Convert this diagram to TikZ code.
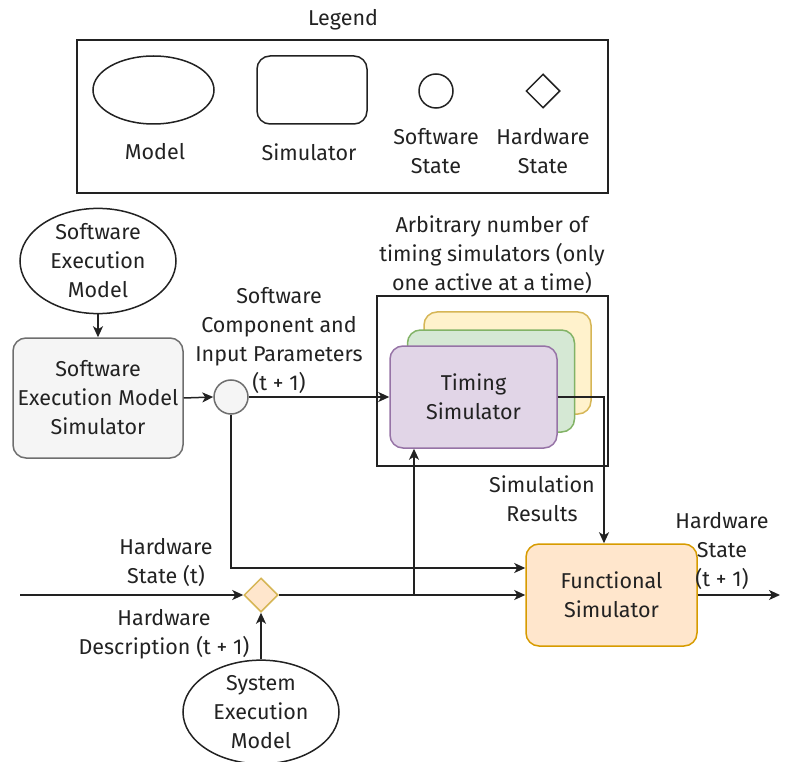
\documentclass[tikz,border=0pt]{standalone}
\usepackage{fontspec}
\setmainfont{Fira Sans}
\usetikzlibrary{shapes.geometric,arrows.meta}
\definecolor{ink}{HTML}{222222}
\definecolor{swfill}{HTML}{F5F5F5}
\definecolor{swline}{HTML}{6E6E6E}
\definecolor{hwfill}{HTML}{FFE6CC}
\definecolor{hwline}{HTML}{D6B656}
\definecolor{fsline}{HTML}{D79B00}
\definecolor{pfill}{HTML}{E1D5E7}
\definecolor{pline}{HTML}{9673A6}
\definecolor{gfill}{HTML}{D5E8D4}
\definecolor{gline}{HTML}{82B366}
\definecolor{yfill}{HTML}{FFF2CC}
\definecolor{yline}{HTML}{D6B656}
\tikzset{
  txt/.style={font=\fontsize{21.5}{29}\selectfont, text=ink, align=center, inner sep=0pt},
  model/.style={txt, ellipse, draw=ink, line width=1.5pt, minimum width=156pt, minimum height=100pt},
  simbox/.style={txt, rectangle, rounded corners=13pt, draw=ink, line width=1.5pt},
  swstate/.style={circle, draw=ink, line width=1.5pt, minimum size=34pt, inner sep=0pt},
  hwstate/.style={diamond, draw=ink, line width=1.5pt, minimum size=34pt, inner sep=0pt},
  frame/.style={rectangle, draw=ink, line width=1.5pt, inner sep=0pt},
  arr/.style={draw=ink, line width=1.5pt, -{Stealth[length=11pt,width=10pt,inset=3pt]}},
  wire/.style={draw=ink, line width=1.5pt}
}
\begin{document}
\begin{tikzpicture}[x=1pt,y=-1pt]
\useasboundingbox (0,0) rectangle (785,762);

% ---------- legend ----------
\node[txt] (legtitle) at (343,20) {Legend};
\node[frame, minimum width=531pt, minimum height=153pt] (legend) at (342.5,116.5) {};
\node[model, minimum width=121pt, minimum height=68pt] (legmodel) at (153.5,90) {};
\node[simbox, minimum width=110pt, minimum height=68pt] (legsim) at (312,90) {};
\node[swstate] (legsw) at (436,91) {};
\node[hwstate] (leghw) at (543,91) {};
\node[txt] (legmodeltxt) at (155,152) {Model};
\node[txt] (legsimtxt) at (309,152) {Simulator};
\node[txt] (legswtxt) at (436,151) {Software\\State};
\node[txt] (leghwtxt) at (543,151) {Hardware\\State};

% ---------- software side ----------
\node[model] (swm) at (98,261) {Software\\Execution\\Model};
\node[simbox, fill=swfill, draw=swline, minimum width=170pt, minimum height=120pt] (sems) at (98,398) {Software\\Execution Model\\Simulator};
\node[swstate, fill=swfill, draw=swline] (sws) at (231,397) {};

% ---------- timing simulators ----------
\node[txt] (tstitle) at (492,255) {Arbitrary number of\\timing simulators (only\\one active at a time)};
\node[frame, minimum width=231pt, minimum height=170pt] (tsgroup) at (492.5,381) {};
\node[simbox, fill=yfill, draw=yline, minimum width=167pt, minimum height=102pt] (tsy) at (507.5,363) {};
\node[simbox, fill=gfill, draw=gline, minimum width=167pt, minimum height=102pt] (tsg) at (491,381) {};
\node[simbox, fill=pfill, draw=pline, minimum width=167pt, minimum height=102pt] (ts) at (473.5,397) {Timing\\Simulator};

% ---------- hardware side ----------
\node[hwstate, fill=hwfill, draw=hwline] (hws) at (261,595) {};
\node[model] (sysm) at (261,712) {System\\Execution\\Model};
\node[simbox, fill=hwfill, draw=fsline, minimum width=171pt, minimum height=102pt] (fs) at (611.5,595) {Functional\\Simulator};

\coordinate (hwin) at (20,595);
\coordinate (hwout) at (780,595);
\coordinate (branch) at (414,595);

% ---------- connectors ----------
\draw[arr] (swm.south) -- (sems.north);
\draw[arr] (sems.east) -- (sws.west);
\draw[arr] (sws.east) -- (ts.west);
\draw[arr] (ts.east) -| ([xshift=-7.5pt]fs.north);
\draw[arr] (sws.south) |- ([yshift=27pt]fs.west);
\draw[arr] (hwin) -- (hws.west);
\draw[arr] (hws.east) -- (fs.west);
\draw[arr] (branch) -- (branch |- ts.south);
\draw[arr] (sysm.north) -- (hws.south);
\draw[arr] (fs.east) -- (hwout);

% ---------- connector labels ----------
\node[txt] (swclbl) at (279,340) {Software\\Component and\\Input Parameters\\(t + 1)};
\node[txt] (simres) at (542,499) {Simulation\\Results};
\node[txt] (hwtlbl) at (166,562) {Hardware\\State (t)};
\node[txt] (hwdlbl) at (164,634) {Hardware\\Description (t + 1)};
\node[txt] (hwnlbl) at (722,551) {Hardware\\State\\(t + 1)};
\end{tikzpicture}
\end{document}
